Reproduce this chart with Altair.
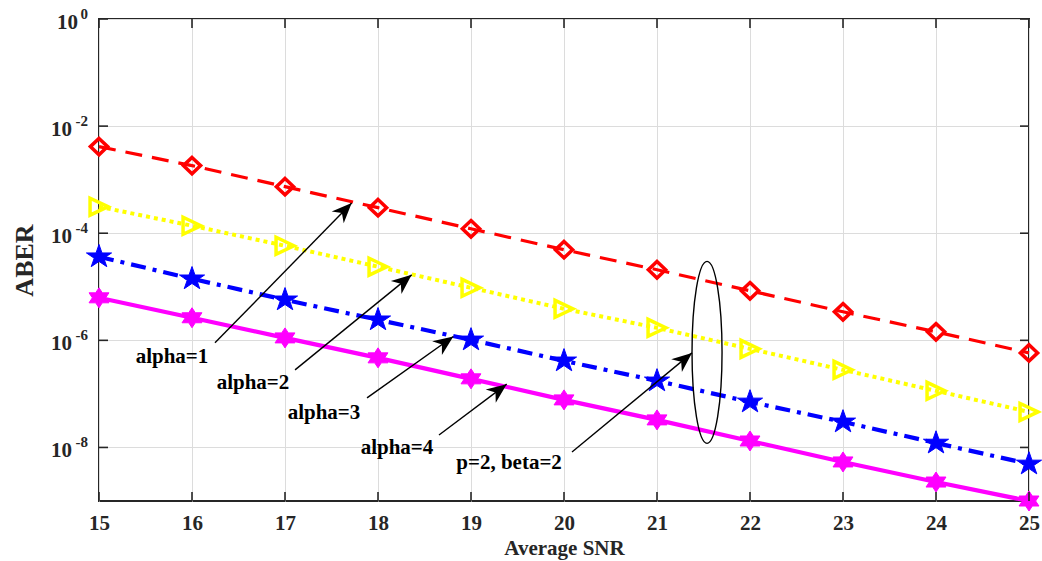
import math
import altair as alt
import pandas as pd

# ---------------- data ----------------
snr = [15, 16, 17, 18, 19, 20, 21, 22, 23, 24, 25]
aber_alpha1 = [4.14e-3, 1.83e-3, 7.40e-4, 3.00e-4, 1.21e-4, 4.92e-5, 2.08e-5, 8.41e-6, 3.41e-6, 1.44e-6, 5.83e-7]
aber_alpha2 = [3.13e-4, 1.38e-4, 5.83e-5, 2.37e-5, 9.57e-6, 3.88e-6, 1.71e-6, 6.93e-7, 2.81e-7, 1.14e-7, 4.61e-8]
aber_alpha3 = [3.64e-5, 1.41e-5, 5.71e-6, 2.42e-6, 1.02e-6, 4.14e-7, 1.75e-7, 7.08e-8, 3.00e-8, 1.21e-8, 4.92e-9]
aber_alpha4 = [6.22e-6, 2.64e-6, 1.11e-6, 4.71e-7, 1.91e-7, 7.73e-8, 3.27e-8, 1.32e-8, 5.36e-9, 2.26e-9, 1.00e-9]

x_ticks = [15, 16, 17, 18, 19, 20, 21, 22, 23, 24, 25]
y_tick_values = [1, 1e-2, 1e-4, 1e-6, 1e-8]
y_tick_exponents = ["0", "-2", "-4", "-6", "-8"]

label_text = ["alpha=1", "alpha=2", "alpha=3", "alpha=4", "p=2, beta=2"]
label_x = [15.785, 16.656, 17.419, 18.204, 19.409]
label_y = [4.92e-7, 1.61e-7, 4.42e-8, 9.79e-9, 5.13e-9]
arrow_tail_x = [16.247, 17.108, 17.882, 18.656, 20.086]
arrow_tail_y = [8.97e-7, 2.81e-7, 8.41e-8, 1.71e-8, 8.24e-9]
arrow_tip_x = [17.717, 18.362, 18.81, 19.384, 21.376]
arrow_tip_y = [3.66e-4, 1.67e-5, 1.18e-6, 1.52e-7, 5.83e-7]
ellipse_x = [21.538]
ellipse_y = [5.97e-7]

# ---------------- layout / style ----------------
W, H = 930, 482
XMIN, XMAX = 15, 25
YMIN, YMAX = 1e-9, 1
PX_X = W / (XMAX - XMIN)
PX_DEC = H / (math.log10(YMAX) - math.log10(YMIN))
TICK_PX = 9
FONT = "Liberation Serif"
AXIS_COLOR = "#262626"
GRID_COLOR = "#dcdcdc"

xscale = alt.Scale(domain=[XMIN, XMAX], nice=False, zero=False)
yscale = alt.Scale(type="log", domain=[YMIN, YMAX], nice=False)

xaxis = alt.Axis(values=x_ticks, grid=True, gridColor=GRID_COLOR, gridWidth=1,
                 ticks=False, tickSize=0, domain=False, labelFont=FONT, labelFontSize=21,
                 labelFontWeight="bold", labelColor=AXIS_COLOR, labelPadding=11,
                 labelFlush=False, format="d",
                 title="Average SNR", titleFont=FONT, titleFontSize=21, titleFontWeight="bold",
                 titleColor=AXIS_COLOR, titleX=W / 2, titleY=47, titleBaseline="middle",
                 titleAlign="center")
yaxis = alt.Axis(values=y_tick_values, grid=True, gridColor=GRID_COLOR, gridWidth=1,
                 ticks=False, tickSize=0, domain=False, labels=False,
                 title="ABER", titleFont=FONT, titleFontSize=26, titleFontWeight="bold",
                 titleColor=AXIS_COLOR, titleX=-75, titleY=H / 2, titleAngle=270,
                 titleBaseline="middle", titleAlign="center")


def X(field):
    return alt.X(field, type="quantitative", scale=xscale, axis=xaxis)


def Y(field):
    return alt.Y(field, type="quantitative", scale=yscale, axis=yaxis)


# custom marker paths (unit box -1..1)
TRI_RIGHT = "M1,0 L-1,-0.95 L-1,0.95 Z"
DIAMOND = "M0,-1 L1.05,0 L0,1 L-1.05,0 Z"
PENTAGRAM = ("M0,-1 L0.242,-0.309 L1.027,-0.309 L0.392,0.118 L0.635,0.809 L0,0.382 "
             "L-0.635,0.809 L-0.392,0.118 L-1.027,-0.309 L-0.242,-0.309 Z")
HEXAGRAM = ("M0,-1 L0.332,-0.5 L0.996,-0.5 L0.664,0 L0.996,0.5 L0.332,0.5 L0,1 "
            "L-0.332,0.5 L-0.996,0.5 L-0.664,0 L-0.996,-0.5 L-0.332,-0.5 Z")
ARROW_HEAD = "M0,0 L0.42,1 L0,0.7 L-0.42,1 Z"
a, k = 0.165, 0.5523
ELLIPSE = (f"M0,-1 C{a*k:.4f},-1 {a},{-k} {a},0 C{a},{k} {a*k:.4f},1 0,1 "
           f"C{-a*k:.4f},1 {-a},{k} {-a},0 C{-a},{-k} {-a*k:.4f},-1 0,-1 Z")


def series(vals, color, width, dash, shape, size, filled, sw):
    df = pd.DataFrame({"snr": snr, "aber": vals})
    base = alt.Chart(df).encode(x=X("snr"), y=Y("aber"))
    line_kw = dict(color=color, strokeWidth=width, clip=False)
    if dash:
        line_kw["strokeDash"] = dash
    line = base.mark_line(**line_kw)
    if filled:
        pts = base.mark_point(shape=shape, size=size, filled=True, fill=color, stroke=color,
                              strokeWidth=sw, opacity=1, fillOpacity=1)
    else:
        pts = base.mark_point(shape=shape, size=size, filled=False, stroke=color,
                              strokeWidth=sw, opacity=1)
    return [line, pts]


layers = []
layers += series(aber_alpha1, "#ff0000", 3.2, [17, 10], DIAMOND, 270, False, 3.5)
layers += series(aber_alpha2, "#ffff00", 4, [4, 4], TRI_RIGHT, 320, False, 3.5)
layers += series(aber_alpha3, "#0000ff", 4.2, [15, 7, 4, 7], PENTAGRAM, 600, True, 1)
layers += series(aber_alpha4, "#ff00ff", 4.2, None, HEXAGRAM, 400, True, 1)

# inward ticks (MATLAB box style)
tick_dy = 10 ** (math.log10(YMIN) + TICK_PX / PX_DEC)
tick_dy_top = 10 ** (math.log10(YMAX) - TICK_PX / PX_DEC)
xt = pd.DataFrame({"x": x_ticks * 2,
                   "y": [YMIN] * len(x_ticks) + [YMAX] * len(x_ticks),
                   "y2": [tick_dy] * len(x_ticks) + [tick_dy_top] * len(x_ticks)})
yt = pd.DataFrame({"y": y_tick_values * 2,
                   "x": [XMIN] * len(y_tick_values) + [XMAX] * len(y_tick_values),
                   "x2": [XMIN + TICK_PX / PX_X] * len(y_tick_values)
                         + [XMAX - TICK_PX / PX_X] * len(y_tick_values)})
layers.append(alt.Chart(xt).mark_rule(color=AXIS_COLOR, strokeWidth=1.6).encode(
    x=X("x"), y=Y("y"), y2=alt.Y2("y2")))
layers.append(alt.Chart(yt).mark_rule(color=AXIS_COLOR, strokeWidth=1.6).encode(
    x=X("x"), x2=alt.X2("x2"), y=Y("y")))

# y tick labels 10^n
yl = pd.DataFrame({"x": [XMIN] * len(y_tick_values), "y": y_tick_values,
                   "exp": y_tick_exponents, "base": ["10"] * len(y_tick_values)})
txt = dict(font=FONT, fontWeight="bold", color=AXIS_COLOR, align="right", baseline="middle")
layers.append(alt.Chart(yl).transform_filter("datum.exp == '0'").mark_text(
    fontSize=21, dx=-21, dy=4, **txt).encode(x=X("x"), y=Y("y"), text="base:N"))
layers.append(alt.Chart(yl).transform_filter("datum.exp != '0'").mark_text(
    fontSize=21, dx=-27, dy=4, **txt).encode(x=X("x"), y=Y("y"), text="base:N"))
layers.append(alt.Chart(yl).mark_text(fontSize=15, dx=-11, dy=-5, **txt).encode(
    x=X("x"), y=Y("y"), text="exp:N"))

# annotation arrows
angles = []
for tx, ty, hx, hy in zip(arrow_tail_x, arrow_tail_y, arrow_tip_x, arrow_tip_y):
    dxs = (hx - tx) * PX_X
    dys = (math.log10(hy) - math.log10(ty)) * PX_DEC  # upward positive
    angles.append(math.degrees(math.atan2(dxs, dys)) % 360)
ar = pd.DataFrame({"x": arrow_tail_x, "y": arrow_tail_y, "x2": arrow_tip_x,
                   "y2": arrow_tip_y, "ang": angles})
layers.append(alt.Chart(ar).mark_rule(color="black", strokeWidth=1.4).encode(
    x=X("x"), y=Y("y"), x2=alt.X2("x2"), y2=alt.Y2("y2")))
layers.append(alt.Chart(ar).mark_point(shape=ARROW_HEAD, size=1600, filled=True,
                                       fill="black", opacity=1, strokeWidth=0).encode(
    x=X("x2"), y=Y("y2"), angle=alt.Angle("ang:Q", scale=None)))

# ellipse
el = pd.DataFrame({"x": ellipse_x, "y": ellipse_y})
layers.append(alt.Chart(el).mark_point(shape=ELLIPSE, size=182 * 182, filled=False,
                                       stroke="black", strokeWidth=1.4, opacity=1).encode(
    x=X("x"), y=Y("y")))

# annotation labels
lb = pd.DataFrame({"x": label_x, "y": label_y, "t": label_text})
layers.append(alt.Chart(lb).mark_text(font=FONT, fontSize=21, fontWeight="bold", color="black",
                                      align="center", baseline="middle").encode(
    x=X("x"), y=Y("y"), text="t:N"))

chart = alt.layer(*layers).properties(
    width=W, height=H,
    autosize=alt.AutoSizeParams(type="none"),
    padding={"left": 99, "top": 19, "right": 13, "bottom": 60},
    background="white",
).configure_view(stroke=AXIS_COLOR, strokeWidth=2)

chart.save("out.html", embed_options={"renderer": "svg", "actions": False})
